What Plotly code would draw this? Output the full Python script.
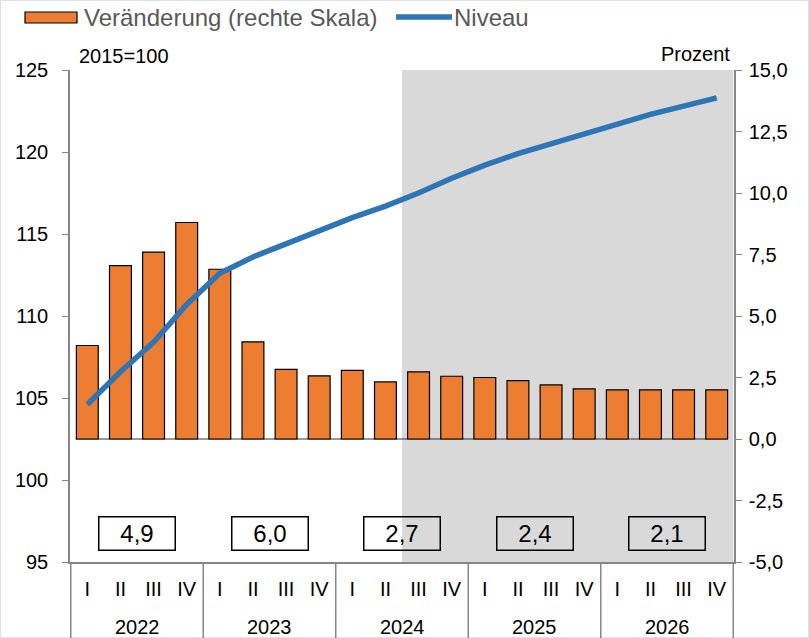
import plotly.graph_objects as go

years = ["2022", "2023", "2024", "2025", "2026"]
quarters = ["I", "II", "III", "IV"]

# Veränderung gegenüber Vorjahresquartal, Prozent (rechte Skala)
change = [3.8, 7.05, 7.6, 8.8, 6.9, 3.95, 2.83, 2.57, 2.79, 2.32,
          2.73, 2.55, 2.5, 2.37, 2.2, 2.04, 2.0, 2.0, 2.0, 2.0]
# Niveau, 2015=100 (linke Skala)
level = [104.6, 106.6, 108.4, 110.7, 112.6, 113.6, 114.4, 115.2, 116.0, 116.7,
         117.5, 118.4, 119.2, 119.9, 120.5, 121.1, 121.7, 122.3, 122.8, 123.3]
# Jahresdurchschnitt
annual = [4.9, 6.0, 2.7, 2.4, 2.1]
forecast_start = 10  # erstes Prognosequartal (2024 III)
right_ticks = [-5, -2.5, 0, 2.5, 5, 7.5, 10, 12.5, 15]

ORANGE = "#ED7D31"
BLUE = "#2E75B6"
GREY = "#868686"
FONT = "Arial, Liberation Sans, sans-serif"
BAR_W = 0.66

W, H = 809, 638
L, R, T, B = 70, 75, 70, 76
PW, PH = W - L - R, H - T - B


def px_x(px):
    return (px - L) / PW


def px_y(py):
    return (T + PH - py) / PH


def de(v, fmt=".1f"):
    return format(v, fmt).replace(".", ",")


x_cat = [f"{q} {y}" for y in years for q in quarters]
q_labels = [q for y in years for q in quarters]
nq = len(quarters)

fig = go.Figure()
fig.add_bar(x=x_cat, y=change, yaxis="y", marker=dict(color=ORANGE, line=dict(color="black", width=1.2)),
            width=BAR_W, showlegend=False)
fig.add_scatter(x=x_cat, y=level, yaxis="y2", mode="lines",
                line=dict(color=BLUE, width=5.5), showlegend=False)

shapes = [
    # Prognosezeitraum
    dict(type="rect", xref="x", yref="paper", x0=forecast_start - 0.5, x1=len(x_cat) - 0.5, y0=0, y1=1,
         fillcolor="#D9D9D9", line=dict(width=0), layer="below"),
    # Nulllinie der rechten Skala, nur unter den Säulen
    dict(type="line", xref="x", yref="y", x0=-BAR_W / 2 - 0.02, x1=len(x_cat) - 1 + BAR_W / 2,
         y0=0, y1=0, line=dict(color="#303030", width=1.2), layer="below"),
    # Legende
    dict(type="rect", xref="paper", yref="paper", x0=px_x(25), x1=px_x(77), y0=px_y(12), y1=px_y(23),
         fillcolor=ORANGE, line=dict(color="black", width=1.2)),
    dict(type="line", xref="paper", yref="paper", x0=px_x(396), x1=px_x(452), y0=px_y(17), y1=px_y(17),
         line=dict(color=BLUE, width=5.5)),
    # Rahmen
    dict(type="rect", xref="paper", yref="paper", x0=px_x(0.5), x1=px_x(808.5), y0=px_y(0.5), y1=px_y(637.5),
         line=dict(color="#DCE3EA", width=1)),
]
# Trennlinien zwischen den Jahren
for i in range(len(years) + 1):
    shapes.append(dict(type="line", xref="x", yref="paper", x0=i * nq - 0.5, x1=i * nq - 0.5,
                       y0=0, y1=px_y(640), line=dict(color=GREY, width=1.5)))

annotations = [
    dict(text="Veränderung (rechte Skala)", xref="paper", yref="paper", x=px_x(82), y=px_y(17),
         xanchor="left", yanchor="middle", showarrow=False, font=dict(size=24, color="#595959")),
    dict(text="Niveau", xref="paper", yref="paper", x=px_x(452), y=px_y(17),
         xanchor="left", yanchor="middle", showarrow=False, font=dict(size=24, color="#595959")),
    dict(text="2015=100", xref="paper", yref="paper", x=px_x(77), y=px_y(56),
         xanchor="left", yanchor="middle", showarrow=False, font=dict(size=20, color="black")),
    dict(text="Prozent", xref="paper", yref="paper", x=px_x(732), y=px_y(54),
         xanchor="right", yanchor="middle", showarrow=False, font=dict(size=20, color="black")),
]
for i, (yr, v) in enumerate(zip(years, annual)):
    xc = i * nq + (nq - 1) / 2
    annotations.append(dict(
        text=de(v), xref="x", yref="paper", x=xc, y=px_y(533.5), xanchor="center", yanchor="middle",
        showarrow=False, font=dict(size=24, color="black"),
        width=72, height=29, borderpad=1.5, borderwidth=1.5, bordercolor="black"))
    annotations.append(dict(
        text=yr, xref="x", yref="paper", x=xc, y=px_y(627), xanchor="center", yanchor="middle",
        showarrow=False, font=dict(size=20, color="black")))

fig.update_layout(
    width=W, height=H,
    margin=dict(l=L, r=R, t=T, b=B),
    paper_bgcolor="white", plot_bgcolor="rgba(0,0,0,0)",
    font=dict(family=FONT, size=20, color="black"),
    bargap=0.34,
    shapes=shapes,
    annotations=annotations,
    xaxis=dict(type="category", showline=True, linecolor=GREY, linewidth=1.5,
               ticks="", showgrid=False, tickmode="array", tickvals=x_cat, ticktext=q_labels,
               tickfont=dict(size=20), ticklabelstandoff=8),
    yaxis=dict(side="right", range=[-5, 15], tickmode="array", tickvals=right_ticks,
               ticktext=[de(v) for v in right_ticks], showline=True,
               linecolor=GREY, linewidth=1.5, ticks="outside", ticklen=6, tickcolor=GREY,
               showgrid=False, zeroline=False, ticklabelstandoff=3),
    yaxis2=dict(side="left", overlaying="y", range=[95, 125], dtick=5, showline=True,
                linecolor=GREY, linewidth=1.5, ticks="outside", ticklen=6, tickcolor=GREY,
                showgrid=False, zeroline=False, ticklabelstandoff=10),
)

fig.write_html("out.html", post_script="document.body.style.margin='0';",
               config={"displayModeBar": False})
